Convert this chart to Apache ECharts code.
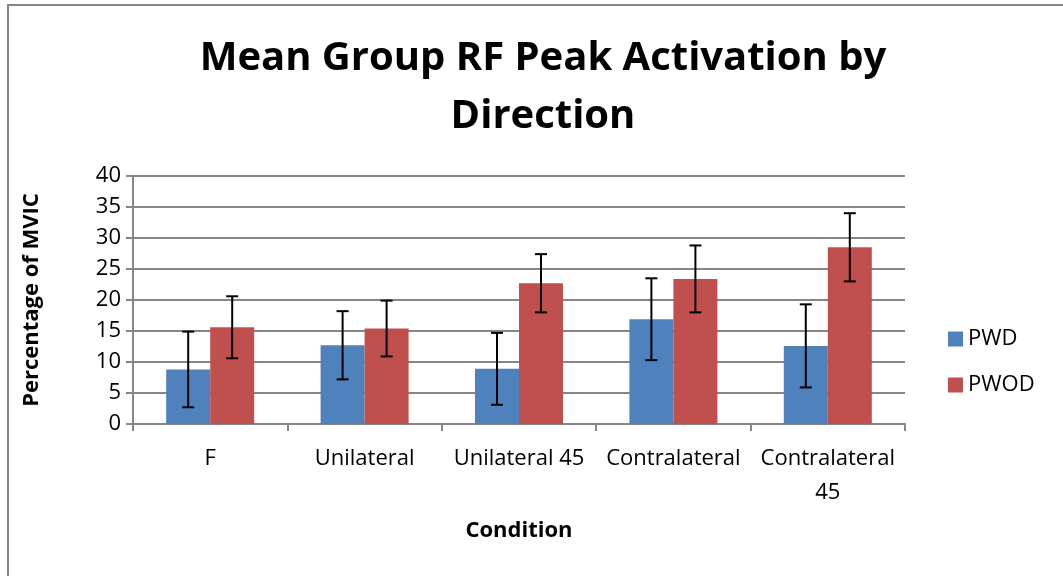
<!DOCTYPE html>
<html>
<head>
<meta charset="utf-8">
<script src="https://cdn.jsdelivr.net/npm/echarts@6/dist/echarts.min.js"></script>
<style>
  html, body { margin: 0; padding: 0; background: #fff; }
  #chart { width: 1063px; height: 576px; }
</style>
</head>
<body>
<div id="chart"></div>
<script>
const categories = ['F', 'Unilateral', 'Unilateral 45', 'Contralateral', 'Contralateral\n45'];
const pwd = [8.8, 12.7, 8.9, 16.9, 12.6];
const pwdErr = [6.1, 5.5, 5.8, 6.6, 6.7];
const pwod = [15.6, 15.4, 22.7, 23.4, 28.5];
const pwodErr = [5.0, 4.5, 4.7, 5.4, 5.5];

const font = 'Open Sans';
const gapPct = 43;

const errData = (vals, errs) => vals.map((v, i) => [i, v - errs[i], v + errs[i]]);

// whisker drawn at the centre of the matching bar (side -1 = left, +1 = right)
const errorRender = (side) => (params, api) => {
    const i = api.value(0);
    const lo = api.coord([i, api.value(1)]);
    const hi = api.coord([i, api.value(2)]);
    const bandW = api.size([1, 0])[0];
    const barW = bandW * (1 - gapPct / 100) / 2;
    const x = lo[0] + side * barW / 2;
    const cap = 6;
    const style = { stroke: '#000', lineWidth: 2 };
    return {
        type: 'group',
        children: [
            { type: 'line', shape: { x1: x, y1: hi[1], x2: x, y2: lo[1] }, style },
            { type: 'line', shape: { x1: x - cap, y1: hi[1], x2: x + cap, y2: hi[1] }, style },
            { type: 'line', shape: { x1: x - cap, y1: lo[1], x2: x + cap, y2: lo[1] }, style }
        ]
    };
};

const chart = echarts.init(document.getElementById('chart'));
chart.setOption({
    animation: false,
    backgroundColor: '#fff',
    textStyle: { fontFamily: font },
    graphic: [
        { type: 'rect', shape: { x: 8, y: 5, width: 1100, height: 620 },
          style: { fill: 'none', stroke: '#868686', lineWidth: 2 } }
    ],
    title: {
        text: 'Mean Group RF Peak Activation by\nDirection',
        left: 538, top: 25, textAlign: 'center',
        textStyle: { fontFamily: font, fontWeight: 'bold', fontSize: 40, lineHeight: 58, color: '#000' }
    },
    legend: {
        orient: 'vertical',
        left: 943, top: 323,
        itemWidth: 15, itemHeight: 15, itemGap: 24,
        icon: 'rect',
        textStyle: { fontFamily: font, fontSize: 22, color: '#000' },
        data: ['PWD', 'PWOD']
    },
    grid: { left: 133, right: 158, top: 176, bottom: 152, containLabel: false },
    xAxis: {
        type: 'category',
        data: categories,
        name: 'Condition',
        nameLocation: 'middle',
        nameGap: 96,
        nameTextStyle: { fontFamily: font, fontWeight: 'bold', fontSize: 22, color: '#000' },
        axisLine: { lineStyle: { color: '#868686', width: 2 } },
        axisTick: { show: true, length: 7, lineStyle: { color: '#868686', width: 2 } },
        axisLabel: { fontFamily: font, fontSize: 22, color: '#000', margin: 18, lineHeight: 34, interval: 0 }
    },
    yAxis: {
        type: 'value',
        min: 0, max: 40, interval: 5,
        name: 'Percentage of MVIC',
        nameLocation: 'middle',
        nameGap: 90,
        nameTextStyle: { fontFamily: font, fontWeight: 'bold', fontSize: 22, color: '#000' },
        axisLine: { show: true, lineStyle: { color: '#868686', width: 2 } },
        axisTick: { show: true, length: 7, inside: false, lineStyle: { color: '#868686', width: 2 } },
        axisLabel: { fontFamily: font, fontSize: 22, color: '#000', margin: 12 },
        splitLine: { lineStyle: { color: '#868686', width: 2 } }
    },
    series: [
        { name: 'PWD', type: 'bar', data: pwd, barGap: '0%', barCategoryGap: gapPct + '%',
          itemStyle: { color: '#4F81BD' } },
        { name: 'PWOD', type: 'bar', data: pwod, barGap: '0%', barCategoryGap: gapPct + '%',
          itemStyle: { color: '#C0504D' } },
        { type: 'custom', renderItem: errorRender(-1), data: errData(pwd, pwdErr),
          encode: { x: 0, y: [1, 2] }, z: 10, silent: true },
        { type: 'custom', renderItem: errorRender(1), data: errData(pwod, pwodErr),
          encode: { x: 0, y: [1, 2] }, z: 10, silent: true }
    ]
});
</script>
</body>
</html>
